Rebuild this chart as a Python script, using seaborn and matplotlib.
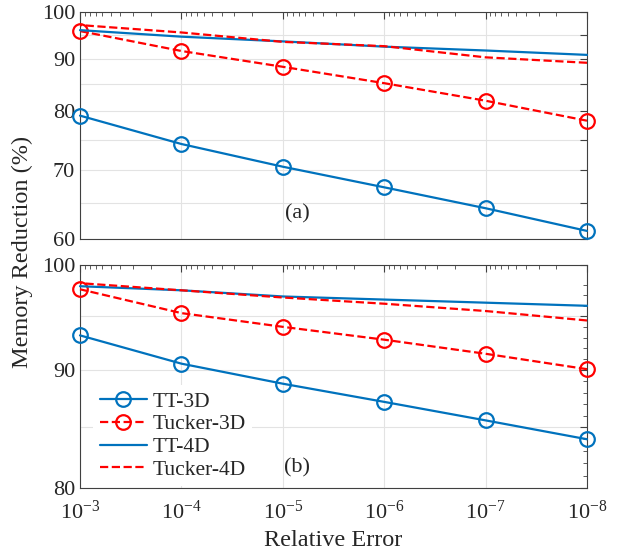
import numpy as np
import pandas as pd
import matplotlib
matplotlib.use("Agg")
import matplotlib.pyplot as plt
import seaborn as sns
from matplotlib.ticker import FixedLocator, FixedFormatter, NullFormatter

# relative error levels (x axis, reversed log scale)
err = [1e-3, 1e-4, 1e-5, 1e-6, 1e-7, 1e-8]
err_labels = ['$10^{-3}$', '$10^{-4}$', '$10^{-5}$', '$10^{-6}$', '$10^{-7}$', '$10^{-8}$']

# panel (a)
a_tt3 = [79.2, 74.3, 70.6, 67.4, 64.3, 61.1]
a_tk3 = [95.8, 91.6, 88.4, 85.2, 81.9, 78.3]
a_tt4 = [96.0, 94.6, 93.6, 92.5, 91.7, 90.8]
a_tk4 = [97.1, 95.5, 93.5, 92.6, 90.3, 89.2]

# panel (b)
b_tt3 = [93.2, 90.6, 88.8, 87.2, 85.6, 84.0]
b_tk3 = [97.6, 95.3, 94.0, 92.8, 91.5, 90.1]
b_tt4 = [97.9, 97.5, 96.9, 96.6, 96.3, 96.0]
b_tk4 = [98.2, 97.5, 96.8, 96.2, 95.5, 94.6]

series_names = ['TT-3D', 'Tucker-3D', 'TT-4D', 'Tucker-4D']

sns.set_style("white")
plt.rcParams['font.family'] = ['Liberation Serif', 'DejaVu Serif']
plt.rcParams['mathtext.fontset'] = 'custom'
plt.rcParams['mathtext.rm'] = 'Liberation Serif'
plt.rcParams['mathtext.it'] = 'Liberation Serif:italic'

blue = '#0072BD'
red = '#FF0000'
styles = {
    'TT-3D': dict(color=blue, linestyle='-', marker='o'),
    'Tucker-3D': dict(color=red, linestyle='--', marker='o'),
    'TT-4D': dict(color=blue, linestyle='-', marker=None),
    'Tucker-4D': dict(color=red, linestyle='--', marker=None),
}

fig = plt.figure(figsize=(6.24, 5.58), dpi=100)
ax1 = fig.add_axes([80 / 624, 1 - 239 / 558, 507 / 624, 227 / 558])
ax2 = fig.add_axes([80 / 624, 1 - 488 / 558, 507 / 624, 223 / 558])


def draw(ax, values):
    df = pd.DataFrame({'err': err * 4,
                       'val': sum(values, []),
                       'series': np.repeat(series_names, len(err))})
    for name in series_names:
        st = styles[name]
        sub = df[df['series'] == name]
        sns.lineplot(data=sub, x='err', y='val', ax=ax, color=st['color'],
                     linestyle=st['linestyle'], marker=st['marker'],
                     markersize=10.5, markerfacecolor='none',
                     markeredgecolor=st['color'], markeredgewidth=1.6,
                     linewidth=1.6, label=name, clip_on=False, zorder=3)
    ax.set_xscale('log')
    ax.set_yscale('log')
    ax.set_xlim(1e-3, 1e-8)
    ax.set_xlabel('')
    ax.set_ylabel('')
    ax.xaxis.set_major_locator(FixedLocator(err))
    minors = [m * 10.0 ** e for e in range(-9, -2) for m in range(2, 10)]
    ax.xaxis.set_minor_locator(FixedLocator(minors))
    ax.xaxis.set_minor_formatter(NullFormatter())
    ax.tick_params(which='both', direction='in', top=True, right=True,
                   colors='#404040', labelcolor='#262626', labelsize=16)
    ax.tick_params(which='major', length=5, width=0.8)
    ax.tick_params(which='minor', length=3, width=0.6)
    for s in ax.spines.values():
        s.set_color('#404040')
        s.set_linewidth(0.8)
    ax.grid(True, which='major', axis='x', color='#e3e3e3', linewidth=0.8)


draw(ax1, [a_tt3, a_tk3, a_tt4, a_tk4])
draw(ax2, [b_tt3, b_tk3, b_tt4, b_tk4])

# panel (a) y axis
ax1.set_ylim(60, 100)
ax1.yaxis.set_major_locator(FixedLocator([60, 65, 70, 75, 80, 85, 90, 95, 100]))
ax1.yaxis.set_major_formatter(FixedFormatter(['60', '', '70', '', '80', '', '90', '', '100']))
ax1.yaxis.set_minor_locator(FixedLocator([]))
ax1.grid(True, which='major', axis='y', color='#e3e3e3', linewidth=0.8)
ax1.set_xticklabels([])
ax1.get_legend().remove()
ax1.text(0.428, 0.11, '(a)', transform=ax1.transAxes, fontsize=16,
         ha='center', va='center')

# panel (b) y axis
ax2.set_ylim(80, 100)
ax2.yaxis.set_major_locator(FixedLocator([80, 85, 90, 95, 100]))
ax2.yaxis.set_major_formatter(FixedFormatter(['80', '', '90', '', '100']))
ax2.yaxis.set_minor_locator(FixedLocator([v for v in range(81, 99) if v % 5]))
ax2.yaxis.set_minor_formatter(NullFormatter())
ax2.grid(True, which='major', axis='y', color='#e3e3e3', linewidth=0.8)
ax2.set_xticklabels(err_labels)
ax2.tick_params(axis='x', pad=9)
ax2.text(0.428, 0.09, '(b)', transform=ax2.transAxes, fontsize=16,
         ha='center', va='center')
leg = ax2.legend(loc='lower left', bbox_to_anchor=(0.005, -0.04), fontsize=15.5,
                 frameon=True, facecolor='white', edgecolor='none',
                 framealpha=1, handlelength=2.2, handletextpad=0.25,
                 labelspacing=0.12, borderpad=0.3)

fig.text(22 / 624, 1 - 252 / 558, 'Memory Reduction (%)', rotation=90,
         ha='center', va='center', fontsize=17.5, color='#262626')
fig.text(333 / 624, 1 - 541 / 558, 'Relative Error', ha='center',
         va='center', fontsize=17.5, color='#262626')

fig.savefig('out.png', dpi=100)
